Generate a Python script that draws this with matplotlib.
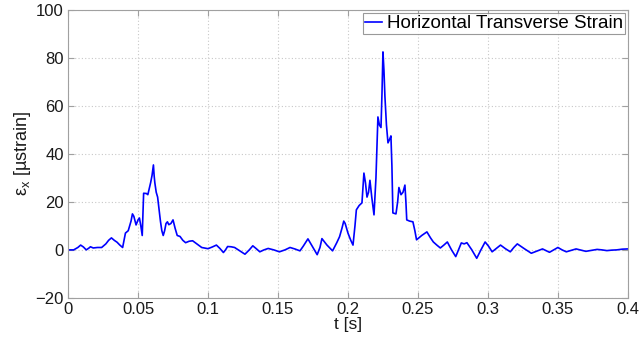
import matplotlib
matplotlib.use("Agg")
import matplotlib.pyplot as plt

plt.rcParams['font.family'] = ['Liberation Sans', 'DejaVu Sans']
plt.rcParams['mathtext.fontset'] = 'custom'
plt.rcParams['mathtext.rm'] = 'Liberation Sans'
plt.rcParams['mathtext.it'] = 'Liberation Sans'

## Strain record ##
t = [0.000, 0.004, 0.007, 0.009, 0.011, 0.013, 0.015, 0.016, 0.018, 0.021,
     0.024, 0.027, 0.029, 0.031, 0.033, 0.035, 0.037, 0.039, 0.040, 0.041,
     0.043, 0.045, 0.046, 0.047, 0.0486, 0.050, 0.051, 0.052, 0.053, 0.0535,
     0.054, 0.056, 0.057, 0.059, 0.060, 0.061, 0.0615, 0.062, 0.063, 0.064,
     0.065, 0.066, 0.067, 0.068, 0.069, 0.070, 0.071, 0.072, 0.0735, 0.075,
     0.0765, 0.078, 0.080, 0.082, 0.084, 0.0865, 0.089, 0.092, 0.0955, 0.100,
     0.103, 0.106, 0.1085, 0.111, 0.1125, 0.114, 0.1165, 0.119, 0.123, 0.1264,
     0.1295, 0.132, 0.1345, 0.137, 0.140, 0.143, 0.147, 0.151, 0.155, 0.1586,
     0.162, 0.1657, 0.168, 0.1714, 0.1745, 0.178, 0.180, 0.1814, 0.185, 0.189,
     0.192, 0.194, 0.1957, 0.197, 0.198, 0.200, 0.202, 0.2036, 0.205, 0.206,
     0.208, 0.210, 0.2114, 0.2125, 0.2136, 0.2147, 0.2157, 0.217, 0.2186, 0.220,
     0.2214, 0.2225, 0.2236, 0.2243, 0.225, 0.2257, 0.2264, 0.2275, 0.2286, 0.2297,
     0.2307, 0.2314, 0.2321, 0.2343, 0.2355, 0.2364, 0.2379, 0.2393, 0.2407, 0.2414,
     0.242, 0.244, 0.2464, 0.2478, 0.249, 0.2527, 0.2564, 0.259, 0.261, 0.2635,
     0.266, 0.2685, 0.271, 0.274, 0.277, 0.279, 0.281, 0.283, 0.285, 0.2885,
     0.292, 0.295, 0.298, 0.3005, 0.303, 0.306, 0.309, 0.3125, 0.316, 0.3185,
     0.321, 0.326, 0.331, 0.335, 0.339, 0.3415, 0.344, 0.347, 0.350, 0.353,
     0.356, 0.3595, 0.363, 0.3665, 0.370, 0.374, 0.378, 0.3815, 0.385, 0.3885,
     0.392, 0.396, 0.400]
eps_x = [0.0, 0.0, 1.0, 2.0, 1.2, 0.0, 0.8, 1.3, 0.8, 1.0,
         1.0, 2.5, 4.0, 5.0, 4.0, 3.2, 2.0, 1.0, 4.0, 7.0,
         8.0, 12.0, 15.0, 14.0, 10.4, 12.5, 13.3, 10.0, 6.0, 15.0,
         23.6, 23.5, 23.0, 28.0, 31.0, 35.4, 31.0, 28.0, 24.0, 22.0,
         17.0, 12.0, 8.0, 6.0, 8.0, 11.0, 11.7, 10.5, 11.0, 12.5,
         9.0, 6.0, 5.6, 4.0, 3.0, 3.6, 3.8, 2.5, 1.0, 0.5,
         1.2, 2.0, 0.6, -1.1, 0.0, 1.4, 1.3, 1.0, -0.5, -1.8,
         0.0, 1.7, 0.5, -0.8, 0.0, 0.6, 0.0, -0.8, 0.0, 1.0,
         0.4, -0.4, 1.5, 4.6, 1.5, -2.0, 1.0, 4.7, 2.0, -0.4,
         3.0, 5.5, 9.0, 12.0, 11.0, 7.0, 4.0, 2.0, 10.0, 16.7,
         18.5, 19.6, 32.0, 28.0, 22.0, 24.0, 29.0, 22.0, 14.6, 30.0,
         55.4, 52.0, 51.0, 65.0, 82.5, 75.0, 64.0, 52.0, 44.6, 46.0,
         47.5, 35.0, 15.4, 15.0, 20.0, 26.0, 23.0, 24.0, 27.0, 20.0,
         12.5, 12.0, 11.7, 8.0, 4.2, 6.0, 7.5, 5.0, 3.3, 2.0,
         0.8, 2.0, 3.3, 0.0, -2.8, 0.0, 2.9, 2.5, 3.0, 0.0,
         -3.5, 0.0, 3.3, 1.5, -0.8, 0.6, 2.0, 0.5, -0.8, 1.0,
         2.5, 0.5, -1.4, -0.5, 0.4, -0.3, -1.0, 0.0, 1.0, 0.0,
         -0.8, -0.2, 0.4, -0.1, -0.6, -0.2, 0.2, 0.0, -0.3, -0.1,
         0.0, 0.3, 0.4]

x_ticks = [0, 0.05, 0.1, 0.15, 0.2, 0.25, 0.3, 0.35, 0.4]
x_labels = ["0", "0.05", "0.1", "0.15", "0.2", "0.25", "0.3", "0.35", "0.4"]
y_ticks = [-20, 0, 20, 40, 60, 80, 100]

fig = plt.figure(figsize=(6.42, 3.42), dpi=100)
ax = fig.add_axes([0.106, 0.129, 0.872, 0.842])

ax.plot(t, eps_x, color=(0, 0, 1), linewidth=1.2, solid_joinstyle="round",
        label="Horizontal Transverse Strain")

ax.set_xlim(0, 0.4)
ax.set_ylim(-20, 100)
ax.set_xticks(x_ticks)
ax.set_xticklabels(x_labels)
ax.set_yticks(y_ticks)

## MATLAB-like axes ##
ax.grid(True, linestyle=(0, (1, 2)), color="#c8c8c8", linewidth=0.8)
for s in ax.spines.values():
    s.set_color("#a0a0a0")
ax.tick_params(direction="in", top=True, right=True, length=4,
               color="#a0a0a0", labelsize=12, labelcolor="#1a1a1a", pad=3)

ax.set_xlabel("t [s]", fontsize=12.5, labelpad=0, color="#1a1a1a")
ax.set_ylabel(r"ε$_{\mathrm{x}}$ [µstrain]", fontsize=13, labelpad=2, color="#1a1a1a")

leg = ax.legend(loc="upper right", fontsize=13.5, frameon=True, fancybox=False,
                borderaxespad=0.15, handlelength=0.9, handletextpad=0.25,
                borderpad=0.12)
leg.get_frame().set_edgecolor("#808080")
leg.get_frame().set_linewidth(0.8)

plt.savefig("out.png", dpi=100)
